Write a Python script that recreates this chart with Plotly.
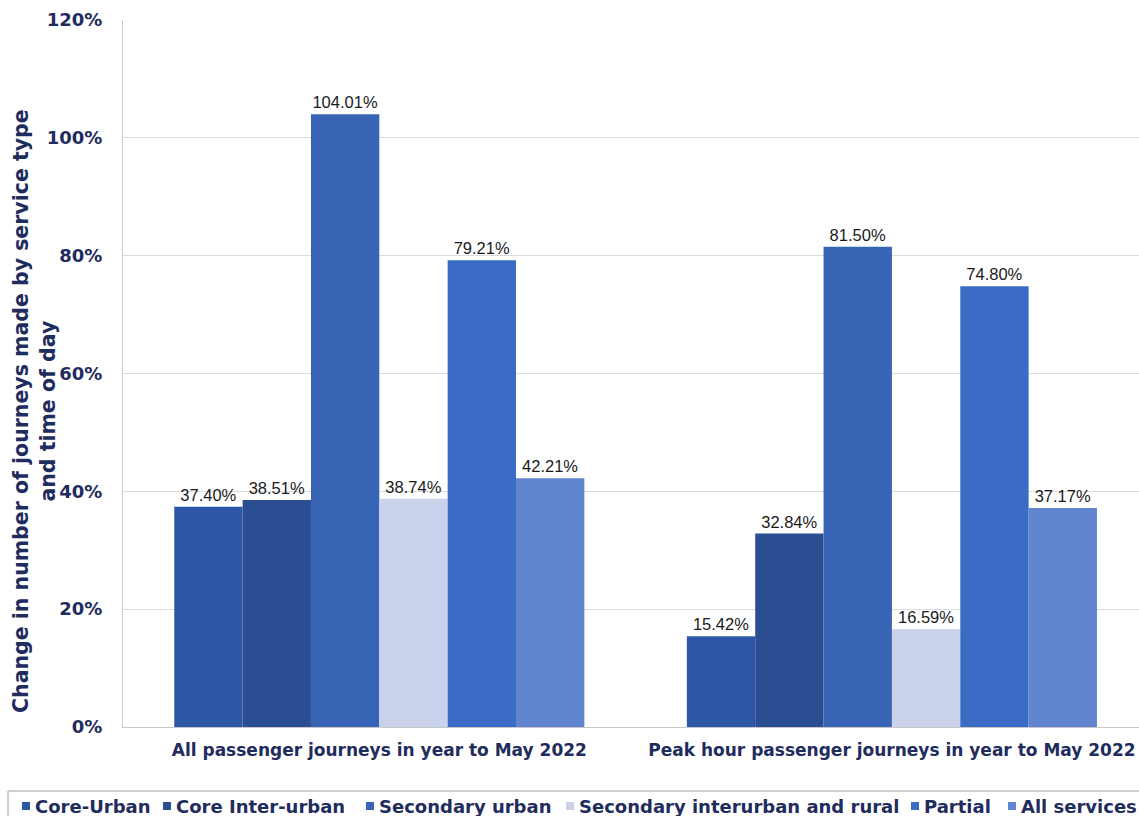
import plotly.graph_objects as go

# Journey categories (x axis)
categories = [
    "All passenger journeys in year to May 2022",
    "Peak hour passenger journeys in year to May 2022",
]

# Percentage change per service type
series_names = [
    "Core-Urban",
    "Core Inter-urban",
    "Secondary urban",
    "Secondary interurban and rural",
    "Partial",
    "All services",
]
core_urban = [37.40, 15.42]
core_inter_urban = [38.51, 32.84]
secondary_urban = [104.01, 81.50]
secondary_interurban_rural = [38.74, 16.59]
partial = [79.21, 74.80]
all_services = [42.21, 37.17]

series_values = [
    core_urban,
    core_inter_urban,
    secondary_urban,
    secondary_interurban_rural,
    partial,
    all_services,
]
series_colors = ["#2E56A6", "#2B4E93", "#3764B4", "#C9D1EB", "#3B6CC5", "#6186CF"]

y_ticks = [0, 20, 40, 60, 80, 100, 120]
y_tick_labels = [f"{v}%" for v in y_ticks]
y_title = "Change in number of journeys made by service type<br>and time of day"

navy = "#1F2C5E"
W, H = 1139, 816
M_L, M_R, M_T, M_B = 123, 0, 20, 89
PLOT_W = W - M_L - M_R
PLOT_H = H - M_T - M_B


def px_x(px):
    return (px - M_L) / PLOT_W


def px_y(py):
    return (H - M_B - py) / PLOT_H


fig = go.Figure()
for name, vals, color in zip(series_names, series_values, series_colors):
    fig.add_trace(
        go.Bar(
            name=name,
            x=categories,
            y=vals,
            marker=dict(color=color, line=dict(width=0)),
            texttemplate="%{y:.2f}%",
            textposition="outside",
            textfont=dict(family="Liberation Sans, Arial", size=16.5, color="#1a1a1a"),
            cliponaxis=False,
            showlegend=False,
        )
    )

# Single-row legend strip along the bottom edge
legend_marker_px = [22, 163, 366, 566, 911, 1008]
legend_y_px = 806
shapes = [
    dict(
        type="rect", xref="paper", yref="paper",
        x0=px_x(8), x1=px_x(1160), y0=px_y(791), y1=px_y(840),
        line=dict(color="#a0a0a0", width=1), fillcolor="rgba(0,0,0,0)",
    )
]
annotations = []
for name, color, mx in zip(series_names, series_colors, legend_marker_px):
    shapes.append(
        dict(
            type="rect", xref="paper", yref="paper",
            x0=px_x(mx), x1=px_x(mx + 8),
            y0=px_y(legend_y_px + 4), y1=px_y(legend_y_px - 4),
            line=dict(width=0), fillcolor=color,
        )
    )
    annotations.append(
        dict(
            text=name, xref="paper", yref="paper",
            x=px_x(mx + 11), y=px_y(legend_y_px),
            xanchor="left", yanchor="middle", showarrow=False,
            font=dict(family="DejaVu Sans", size=18, color=navy, weight="bold"),
        )
    )

# Vertical axis title
annotations.append(
    dict(
        text=y_title, xref="paper", yref="paper",
        x=px_x(34), y=px_y(411), xanchor="center", yanchor="middle",
        textangle=-90, showarrow=False,
        font=dict(family="DejaVu Sans", size=20.5, color=navy, weight="bold"),
    )
)

fig.update_layout(
    width=W,
    height=H,
    paper_bgcolor="white",
    plot_bgcolor="white",
    barmode="group",
    bargap=0.2,
    bargroupgap=0,
    margin=dict(l=M_L, r=M_R, t=M_T, b=M_B, autoexpand=False),
    showlegend=False,
    shapes=shapes,
    annotations=annotations,
)

fig.update_xaxes(
    type="category",
    range=[-0.5, 1.482],
    showline=True,
    linecolor="#c8c8c8",
    linewidth=1,
    ticks="outside",
    ticklen=8,
    tickcolor="rgba(0,0,0,0)",
    tickfont=dict(family="DejaVu Sans", size=17, color=navy, weight="bold"),
    showgrid=False,
)

fig.update_yaxes(
    range=[0, 120],
    tickvals=y_ticks,
    ticktext=y_tick_labels,
    showline=True,
    linecolor="#c8c8c8",
    linewidth=1,
    showgrid=True,
    gridcolor="#dcdcdc",
    gridwidth=1,
    zeroline=False,
    ticks="outside",
    ticklen=16,
    tickcolor="rgba(0,0,0,0)",
    tickfont=dict(family="DejaVu Sans", size=18, color=navy, weight="bold"),
)

fig.write_html("out.html")
